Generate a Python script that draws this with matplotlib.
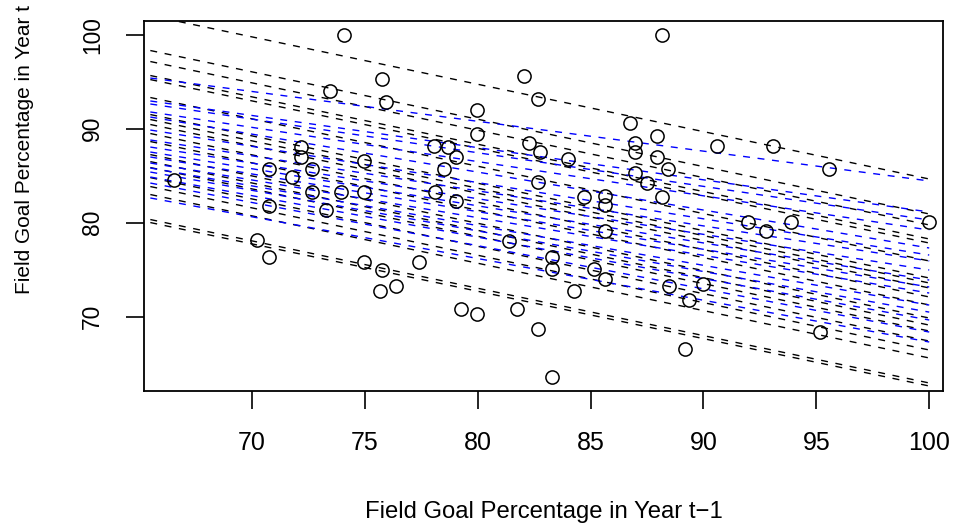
import matplotlib.pyplot as plt
import numpy as np

# field goal percentage, year t-1 vs year t
fg_prev = [66.56, 70.24, 70.77, 70.77, 70.77, 71.77, 72.17, 72.17, 72.64, 72.64,
           73.26, 73.45, 73.95, 74.07, 74.97, 74.97, 74.96, 75.66, 75.77, 75.77,
           75.96, 76.36, 77.38, 78.05, 78.11, 78.50, 78.67, 79.05, 79.05, 79.26,
           79.97, 79.97, 79.97, 81.37, 81.76, 82.06, 82.27, 82.65, 82.65, 82.65,
           82.77, 83.28, 83.28, 83.28, 83.98, 84.25, 84.73, 85.16, 85.66, 85.66,
           85.66, 85.66, 86.75, 86.96, 86.96, 86.96, 87.48, 87.96, 87.96, 88.17,
           88.17, 88.41, 88.47, 89.17, 89.38, 89.97, 90.58, 91.96, 92.77, 93.07,
           93.88, 95.18, 95.58, 100.0]
fg_curr = [84.57, 78.16, 76.38, 85.71, 81.80, 84.82, 88.05, 87.02, 85.71, 83.30,
           81.40, 93.98, 83.30, 100.0, 86.60, 83.30, 75.79, 72.73, 74.97, 95.26,
           92.84, 73.26, 75.79, 88.19, 83.30, 85.71, 88.10, 87.02, 82.30, 70.82,
           92.02, 89.40, 70.29, 78.09, 70.82, 95.64, 88.44, 93.13, 84.30, 68.69,
           87.52, 76.38, 75.04, 63.55, 86.81, 72.73, 82.70, 75.04, 82.84, 81.88,
           79.12, 73.98, 90.64, 88.44, 87.52, 85.25, 84.19, 89.22, 87.02, 100.0,
           82.70, 85.71, 73.29, 66.56, 71.81, 73.51, 88.19, 80.04, 79.12, 88.19,
           80.04, 68.40, 85.71, 80.04]

# kicker-specific intercepts, common slope (black lines)
black_intercepts = [135.05, 131.33, 130.16, 128.67, 128.24, 126.33, 124.52, 123.99,
                    123.46, 122.50, 121.65, 120.26, 119.51, 118.88, 117.81, 116.86,
                    116.01, 113.35, 113.03]
common_slope = -0.504

# separate intercepts and slopes (blue lines)
blue_intercepts = [116.18, 115.37, 116.06, 115.63, 117.69, 115.11, 113.23, 112.88,
                   113.38, 113.25, 112.61, 113.50, 113.68, 113.74, 114.31, 111.72]
blue_slopes = [-0.3174, -0.3423, -0.3577, -0.3641, -0.4038, -0.3855, -0.3730, -0.3791,
               -0.3948, -0.4009, -0.4009, -0.4226, -0.4319, -0.4409, -0.4594, -0.4441]

line_x = np.array([65.5, 100.0])

plt.rcParams['font.family'] = ['Liberation Sans', 'DejaVu Sans']

fig = plt.figure(figsize=(9.57, 5.29), dpi=100)
ax = fig.add_axes([144 / 957, 1 - 390.7 / 529, (943 - 144) / 957, (390.7 - 20.7) / 529])

ax.plot(fg_prev, fg_curr, 'o', mfc='none', mec='black', ms=9.5, mew=1.1, zorder=3)

dash = (0, (5, 5.5))
for a in black_intercepts:
    ax.plot(line_x, a + common_slope * line_x, color='black', lw=1.0, ls=dash)
for a, b in zip(blue_intercepts, blue_slopes):
    ax.plot(line_x, a + b * line_x, color='blue', lw=1.0, ls=dash)

ax.set_xlim(65.22, 100.61)
ax.set_ylim(62.13, 101.49)
ax.set_xticks([70, 75, 80, 85, 90, 95, 100])
ax.set_yticks([70, 80, 90, 100])
ax.tick_params(length=12.7, width=1.2)
ax.tick_params(axis='x', labelsize=18, pad=16)
ax.tick_params(axis='y', labelsize=16.4, pad=16)
plt.setp(ax.get_yticklabels(), rotation=90, va='center')
for s in ax.spines.values():
    s.set_linewidth(1.3)

fig.text(543.5 / 957, 1 - 512 / 529, 'Field Goal Percentage in Year t\u22121',
         ha='center', va='center', fontsize=17.2)
fig.text(25 / 957, 1 - 150 / 529, 'Field Goal Percentage in Year t',
         ha='center', va='center', rotation=90, fontsize=15)

fig.savefig('out.png', dpi=100)
